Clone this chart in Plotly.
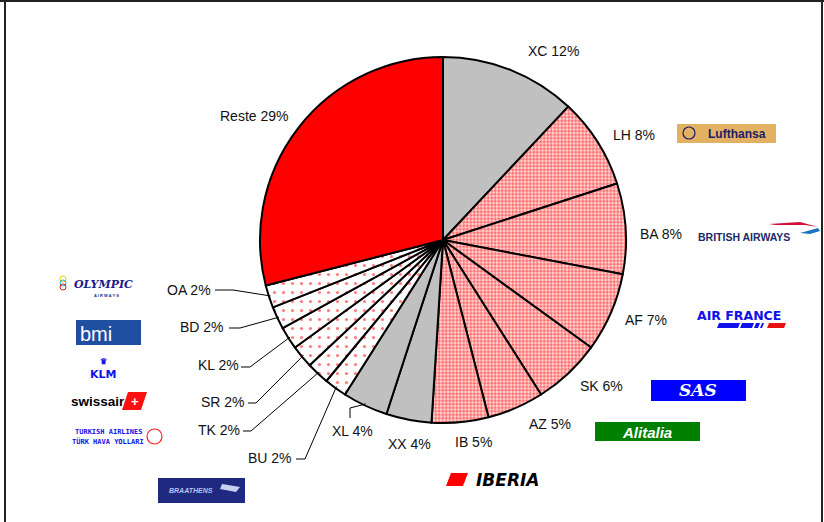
import math
import plotly.graph_objects as go

# ---------------- data ----------------
codes = ["XC", "LH", "BA", "AF", "SK", "AZ", "IB", "XX", "XL",
         "BU", "TK", "SR", "KL", "BD", "OA", "Reste"]
shares = [12, 8, 8, 7, 6, 5, 5, 4, 4, 2, 2, 2, 2, 2, 2, 29]
groups = ["gray", "dense", "dense", "dense", "dense", "dense", "dense", "gray", "gray",
          "sparse", "sparse", "sparse", "sparse", "sparse", "sparse", "red"]

# ---------------- layout helpers ----------------
W, H = 824, 522
CX, CY, R = 443, 240, 183  # pie centre / radius in pixels


def px(x):
    return x / W


def py(y):
    return 1 - y / H


# label text centre positions (pixels) and leader-line elbows
label_pos = {
    "XC": (553, 51), "LH": (634, 135), "BA": (661, 234), "AF": (646, 320),
    "SK": (601, 386), "AZ": (550, 424), "IB": (473, 442), "XX": (409, 444),
    "XL": (352, 431), "BU": (270, 458), "TK": (219, 430), "SR": (223, 402),
    "KL": (218, 365), "BD": (202, 327), "OA": (189, 290), "Reste": (254, 116),
}
leader = {  # (start x, start y, elbow x, elbow y)
    "OA": (215, 290, 233, 290),
    "BD": (229, 328, 240, 328),
    "KL": (241, 367, 250, 367),
    "SR": (248, 403, 256, 403),
    "TK": (243, 431, 251, 431),
    "BU": (296, 459, 305, 459),
    "XL": (350, 418, 350, 408),
}

fill = {"gray": "#C0C0C0", "dense": "#FFDADA", "sparse": "#FFFFFF", "red": "#FF0000"}
pat_shape = {"gray": "", "dense": ".", "sparse": ".", "red": ""}
pat_size = {"gray": 8, "dense": 3.5, "sparse": 9, "red": 8}
pat_sol = {"gray": 0.3, "dense": 0.55, "sparse": 0.1, "red": 0.3}

fig = go.Figure()
fig.add_trace(go.Pie(
    labels=codes, values=shares, sort=False, direction="clockwise", rotation=0,
    textinfo="none", hoverinfo="label+percent", showlegend=False,
    domain=dict(x=[px(CX - R), px(CX + R)], y=[py(CY + R), py(CY - R)]),
    marker=dict(
        colors=[fill[g] for g in groups],
        line=dict(color="black", width=2),
        pattern=dict(
            shape=[pat_shape[g] for g in groups],
            fgcolor=["#FF0000"] * len(groups),
            bgcolor=[fill[g] for g in groups],
            size=[pat_size[g] for g in groups],
            solidity=[pat_sol[g] for g in groups],
            fillmode="overlay",
        ),
    ),
))

annotations = []
shapes = []
LFONT = dict(family="Liberation Sans, Arial, sans-serif", size=14, color="#111")

total = sum(shares)
cum = 0
for code, v in zip(codes, shares):
    mid = (cum + v / 2) / total * 2 * math.pi
    cum += v
    lx, ly = label_pos[code]
    annotations.append(dict(x=px(lx), y=py(ly), xref="paper", yref="paper",
                            text=f"{code} {v}%", showarrow=False, font=LFONT,
                            xanchor="center", yanchor="middle"))
    if code in leader:
        sx, sy, ex, ey = leader[code]
        tx = CX + R * 0.99 * math.sin(mid)
        ty = CY - R * 0.99 * math.cos(mid)
        path = (f"M {px(sx)},{py(sy)} L {px(ex)},{py(ey)} L {px(tx)},{py(ty)}")
        shapes.append(dict(type="path", path=path, xref="paper", yref="paper",
                           line=dict(color="black", width=1)))

# ---------------- frame ----------------
for (x0, y0, x1, y1) in [(0, 1, 824, 1), (5, 0, 5, 522), (822, 0, 822, 522)]:
    shapes.append(dict(type="line", xref="paper", yref="paper",
                       x0=px(x0), y0=py(y0), x1=px(x1), y1=py(y1),
                       line=dict(color="#222", width=2)))


# ---------------- airline logos (as text) ----------------
def box(x0, y0, x1, y1, color):
    shapes.append(dict(type="rect", xref="paper", yref="paper",
                       x0=px(x0), y0=py(y0), x1=px(x1), y1=py(y1),
                       fillcolor=color, line=dict(width=0), layer="above"))


def txt(x, y, s, size, color, family="Liberation Sans, Arial, sans-serif", bold=True,
        italic=False, anchor="center"):
    t = s
    if bold:
        t = f"<b>{t}</b>"
    if italic:
        t = f"<i>{t}</i>"
    annotations.append(dict(x=px(x), y=py(y), xref="paper", yref="paper", text=t,
                            showarrow=False, xanchor=anchor, yanchor="middle",
                            font=dict(family=family, size=size, color=color)))


def poly(pts, color):
    p = "M " + " L ".join(f"{px(a)},{py(b)}" for a, b in pts) + " Z"
    shapes.append(dict(type="path", path=p, xref="paper", yref="paper",
                       fillcolor=color, line=dict(width=0), layer="above"))


# Lufthansa
box(677, 124, 776, 143, "#E2B262")
shapes.append(dict(type="circle", xref="paper", yref="paper", x0=px(683), x1=px(695),
                   y0=py(139), y1=py(127), line=dict(color="#1b1b6b", width=1.2),
                   layer="above"))
txt(737, 134, "Lufthansa", 12, "#1b1b6b")

# British Airways
txt(744, 237, "BRITISH AIRWAYS", 10.5, "#1c2a6b",
    family="Liberation Sans Narrow, Arial Narrow, sans-serif")
poly([(769, 224), (800, 222), (818, 227), (805, 225), (775, 225)], "#D0103A")
poly([(800, 233), (818, 228), (820, 231), (810, 234)], "#1C74C0")

# Air France
txt(739, 315, "AIR FRANCE", 12.5, "#1010E8", family="DejaVu Sans, sans-serif")
poly([(717, 328), (738, 328), (740, 323), (719, 323)], "#1010E8")
poly([(740, 328), (752, 328), (754, 323), (742, 323)], "#1010E8")
poly([(754, 328), (758, 328), (760, 323), (756, 323)], "#1010E8")
poly([(760, 328), (762, 328), (764, 323), (762, 323)], "#1010E8")
poly([(767, 328), (784, 328), (786, 323), (769, 323)], "#E81010")

# SAS
box(651, 380, 746, 401, "#0000FF")
txt(698, 390, "SAS", 17, "white", family="DejaVu Serif, serif", italic=True)

# Alitalia
box(595, 422, 700, 441, "#008000")
txt(647, 432, "Alitalia", 15, "white", italic=True)

# Iberia
poly([(451, 473), (468, 473), (463, 486), (446, 486)], "#FF0000")
txt(508, 480, "IBERIA", 17, "black", italic=True, family="DejaVu Sans, sans-serif")

# Braathens
box(158, 478, 245, 503, "#1E2A80")
txt(191, 490, "BRAATHENS", 7, "#B8C4F0", italic=True)
poly([(222, 484), (240, 487), (236, 492), (220, 489)], "#C8D0F0")

# Turkish Airlines
txt(108, 432, "TURKISH AIRLINES", 7, "#1010E8", family="DejaVu Sans Mono, monospace")
txt(108, 441, "TÜRK HAVA YOLLARI", 7, "#1010E8", family="DejaVu Sans Mono, monospace")
shapes.append(dict(type="circle", xref="paper", yref="paper", x0=px(147), x1=px(162),
                   y0=py(444), y1=py(429), line=dict(color="#FF2020", width=1.2),
                   layer="above"))

# swissair
txt(98, 401, "swissair", 13.5, "black")
poly([(128, 392), (147, 392), (141, 410), (122, 410)], "#FF1010")
txt(135, 401, "+", 13, "white")

# KLM
txt(103, 361, "♛", 8, "#1010E8")
txt(103, 374, "KLM", 11, "#1010E8", family="DejaVu Sans, sans-serif")

# bmi
box(76, 320, 141, 345, "#1F4FA0")
txt(96, 334, "bmi", 20, "white", bold=False)

# Olympic
txt(103, 284, "OLYMPIC", 11, "#1b1b8b", italic=True, family="DejaVu Serif, serif")
txt(106, 295, "A I R W A Y S", 4, "#1b1b8b")
for i, c in enumerate(["#F0D000", "#20B0E0", "#E02020"]):
    shapes.append(dict(type="circle", xref="paper", yref="paper",
                       x0=px(60), x1=px(66), y0=py(282 + 4 * i), y1=py(276 + 4 * i),
                       line=dict(color=c, width=1), layer="above"))

fig.update_layout(
    width=W, height=H, margin=dict(l=0, r=0, t=0, b=0),
    paper_bgcolor="white", plot_bgcolor="white",
    annotations=annotations, shapes=shapes,
)

fig.write_html("out.html", config={"displayModeBar": False},
               post_script="document.body.style.margin='0';"
                           "document.body.style.overflow='hidden';")
